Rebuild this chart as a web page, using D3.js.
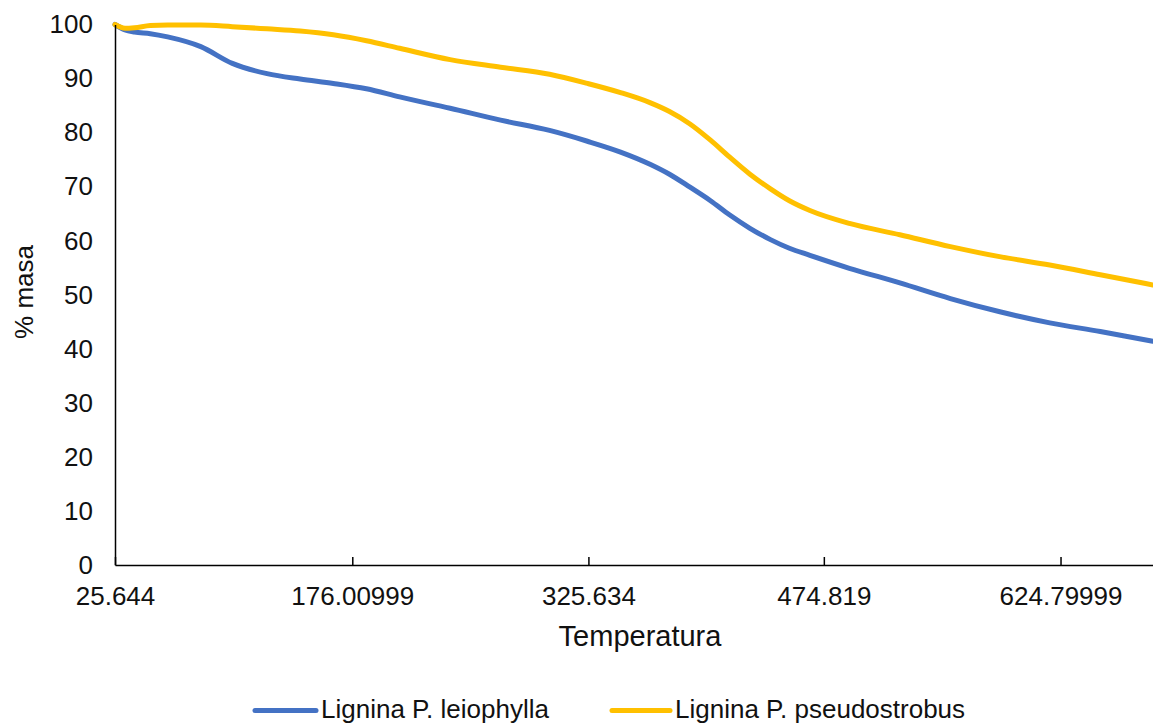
<!DOCTYPE html>
<html>
<head>
<meta charset="utf-8">
<script src="https://cdn.jsdelivr.net/npm/d3@7/dist/d3.min.js"></script>
<style>
  html, body { margin: 0; padding: 0; background: #fff; }
  svg { display: block; font-family: "Liberation Sans", Arial, sans-serif; }
</style>
</head>
<body>
<svg id="chart" width="1153" height="723"></svg>
<script>
// Temperatura (°C) at sampled points of the thermogram
const temperatura = [25.644, 32, 38, 48, 59, 80, 100, 122, 143, 164, 185, 206, 238, 270, 301, 325,
  346, 365, 377, 390, 403, 415, 428, 441, 453, 466, 491, 523, 555, 587, 618, 650, 683.4];

// % masa remaining, Lignina P. leiophylla
const leiophylla = [100, 99.0, 98.6, 98.3, 97.7, 95.9, 92.8, 90.9, 89.9, 89.1, 88.1, 86.6, 84.5, 82.3, 80.4, 78.4,
  76.4, 74.1, 72.3, 69.9, 67.4, 64.8, 62.3, 60.2, 58.6, 57.3, 54.9, 52.2, 49.3, 46.8, 44.8, 43.2, 41.4];

// % masa remaining, Lignina P. pseudostrobus
const pseudostrobus = [100, 99.3, 99.4, 99.8, 99.9, 99.9, 99.6, 99.2, 98.8, 98.1, 97.0, 95.6, 93.5, 92.1, 90.8, 89.1,
  87.4, 85.5, 83.9, 81.6, 78.6, 75.5, 72.3, 69.6, 67.4, 65.6, 63.2, 61.1, 58.9, 57.0, 55.5, 53.7, 51.8];

const xTickLabels = ["25.644", "176.00999", "325.634", "474.819", "624.79999"];
const yTicks = [0, 10, 20, 30, 40, 50, 60, 70, 80, 90, 100];

const seriesNames = ["Lignina P. leiophylla", "Lignina P. pseudostrobus"];
const seriesColors = ["#4472C4", "#FFC000"];

const svg = d3.select("#chart");
const W = 1153, H = 723;
const plot = { left: 115, right: 1153, top: 24.5, bottom: 565 };
const textColor = "#111";

svg.append("rect").attr("width", W).attr("height", H).attr("fill", "#fff");

const x = d3.scaleLinear().domain([25.644, 683.4]).range([plot.left, plot.right]);
const y = d3.scaleLinear().domain([0, 100]).range([plot.bottom, plot.top]);

// Series lines
const series = [leiophylla, pseudostrobus];
const line = d3.line()
  .x(d => x(d[0]))
  .y(d => y(d[1]))
  .curve(d3.curveMonotoneX);

svg.append("g").selectAll("path")
  .data(series)
  .join("path")
  .attr("d", vals => line(temperatura.map((t, i) => [t, vals[i]])))
  .attr("fill", "none")
  .attr("stroke", (d, i) => seriesColors[i])
  .attr("stroke-width", 5)
  .attr("stroke-linejoin", "round")
  .attr("stroke-linecap", "round");

// Y axis: line only, labels to the left
const yAxis = svg.append("g")
  .attr("transform", `translate(${plot.left},0)`)
  .call(d3.axisLeft(y).tickValues(yTicks).tickSize(0).tickPadding(22).tickSizeOuter(0));
yAxis.select(".domain").attr("stroke", "#000").attr("stroke-width", 1.5);
yAxis.selectAll("text").attr("font-size", 26).attr("fill", textColor)
  .attr("font-family", "Liberation Sans, Arial, sans-serif");

// X axis: inside tick marks, labels below
const xAxis = svg.append("g")
  .attr("transform", `translate(0,${plot.bottom})`)
  .call(d3.axisBottom(x)
    .tickValues(xTickLabels.map(Number))
    .tickFormat((d, i) => xTickLabels[i])
    .tickSize(-8).tickSizeOuter(0));
xAxis.select(".domain").attr("stroke", "#000").attr("stroke-width", 1.5);
xAxis.selectAll(".tick line").attr("stroke", "#000").attr("stroke-width", 1.5);
xAxis.selectAll("text").attr("font-size", 26).attr("fill", textColor)
  .attr("font-family", "Liberation Sans, Arial, sans-serif")
  .attr("dy", "0.71em").attr("y", 22);

// Axis titles
svg.append("text")
  .attr("x", 640).attr("y", 646)
  .attr("text-anchor", "middle")
  .attr("font-size", 29).attr("fill", textColor)
  .text("Temperatura");

svg.append("text")
  .attr("transform", "translate(33,292) rotate(-90)")
  .attr("text-anchor", "middle")
  .attr("font-size", 26).attr("fill", textColor)
  .text("% masa");

// Legend
const legendItems = [
  { x1: 255, x2: 316, tx: 321 },
  { x1: 612, x2: 670, tx: 675 }
];
const legend = svg.append("g");
legendItems.forEach((it, i) => {
  legend.append("line")
    .attr("x1", it.x1).attr("x2", it.x2)
    .attr("y1", 710.5).attr("y2", 710.5)
    .attr("stroke", seriesColors[i]).attr("stroke-width", 5)
    .attr("stroke-linecap", "round");
  legend.append("text")
    .attr("x", it.tx).attr("y", 717.5)
    .attr("font-size", 26).attr("fill", textColor)
    .text(seriesNames[i]);
});
</script>
</body>
</html>
